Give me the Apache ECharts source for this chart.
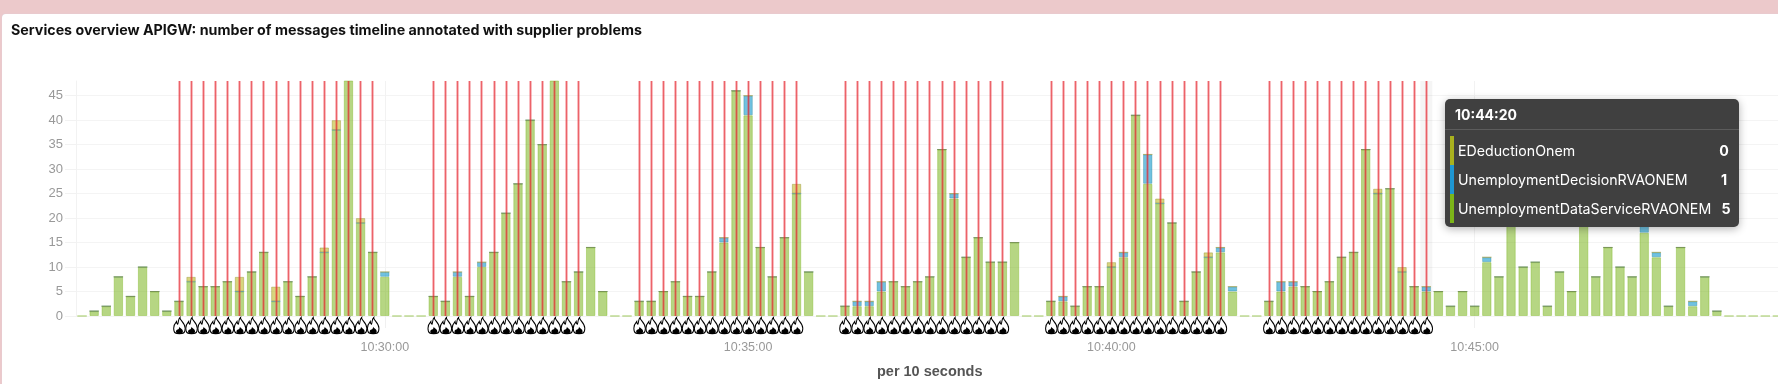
<!DOCTYPE html>
<html><head><meta charset="utf-8">
<style>
html,body{margin:0;padding:0;background:#ecc9cb;width:1778px;height:384px;overflow:hidden}
#panel{position:absolute;left:2px;top:14px;right:0;bottom:0;background:#fff;border-radius:4px 0 0 0;box-shadow:0 0 1px #cfd6e4}
#c{position:absolute;left:0;top:0;width:1778px;height:384px}
</style>
<script src="https://cdn.jsdelivr.net/npm/echarts@6/dist/echarts.min.js"></script>
</head><body><div id="panel"></div><div id="c"></div>
<script>
const chartTitle='Services overview APIGW: number of messages timeline annotated with supplier problems';
const axisTitle='per 10 seconds';
const seriesNames=['UnemploymentDataServiceRVAONEM','UnemploymentDecisionRVAONEM','EDeductionOnem'];
const startSeconds=10*3600+25*60+50;
const stepSeconds=10;
const xTickLabels=['10:30:00','10:35:00','10:40:00','10:45:00'];
const dataService=[
 0,1,2,8,4,10,5,1,3,7,6,6,7,5,9,13,3,7,4,8,13,38,50,19,13,8,0,0,0,
 4,3,8,4,10,13,21,27,40,35,50,7,9,14,5,0,0,
 3,3,5,7,4,4,9,15,46,41,14,8,16,25,9,0,0,
 2,2,2,5,7,6,7,8,34,24,12,16,11,11,15,0,0,
 3,3,2,6,6,10,12,41,27,23,19,3,9,12,13,5,0,0,
 3,5,6,6,5,7,12,13,34,25,26,9,6,5,
 5,2,5,2,11,8,20,10,11,2,9,5,20,8,14,10,8,17,12,2,14,2,8,1,0,0,0,0,0];
const decision=[
 0,0,0,0,0,0,0,0,0,0,0,0,0,0,0,0,0,0,0,0,0,0,0,0,0,1,0,0,0,
 0,0,1,0,1,0,0,0,0,0,0,0,0,0,0,0,0,
 0,0,0,0,0,0,0,1,0,4,0,0,0,0,0,0,0,
 0,1,1,2,0,0,0,0,0,1,0,0,0,0,0,0,0,
 0,1,0,0,0,0,1,0,6,0,0,0,0,0,1,1,0,0,
 0,2,1,0,0,0,0,0,0,0,0,0,0,1,
 0,0,0,0,1,0,0,0,0,0,0,0,0,0,0,0,0,2,1,0,0,1,0,0,0,0,0,0,0];
const deduction=[
 0,0,0,0,0,0,0,0,0,1,0,0,0,3,0,0,3,0,0,0,1,2,0,1,0,0,0,0,0,
 0,0,0,0,0,0,0,0,0,0,0,0,0,0,0,0,0,
 0,0,0,0,0,0,0,0,0,0,0,0,0,2,0,0,0,
 0,0,0,0,0,0,0,0,0,0,0,0,0,0,0,0,0,
 0,0,0,0,0,1,0,0,0,1,0,0,0,1,0,0,0,0,
 0,0,0,0,0,0,0,0,0,1,0,1,0,0,
 0,0,0,0,0,0,0,0,0,0,0,0,0,0,0,0,0,0,0,0,0,0,0,0,0,0,0,0,0];
const annotationSpans=[['10:27:10','10:29:50'],['10:30:40','10:32:40'],['10:33:30','10:35:40'],['10:36:20','10:38:30'],['10:39:10','10:41:30'],['10:42:10','10:44:20']];
const hoverTime='10:44:20';
const yTop=48, yStep=5;

const pad=x=>String(x).padStart(2,'0');
const fmt=s=>pad(Math.floor(s/3600))+':'+pad(Math.floor(s/60)%60)+':'+pad(s%60);
const categories=dataService.map((_,i)=>fmt(startSeconds+i*stepSeconds));
const annotated=[];
annotationSpans.forEach(([a,b])=>{for(let i=categories.indexOf(a);i<=categories.indexOf(b);i++)annotated.push(categories[i]);});
const isEmpty=i=>dataService[i]+decision[i]+deduction[i]===0;
const isTick=(i,v)=>xTickLabels.includes(v);
const colors={green:'rgba(122,181,29,0.55)',blue:'rgba(25,155,205,0.62)',blueB:'rgba(30,130,150,0.35)',yellow:'rgba(190,185,40,0.6)',yellowB:'rgba(130,130,20,0.35)'};
const flameOuter='path://M11 0C10 4 20 8 20 16C20 24 16 24 10 24C4 24 0 24 0 16C0 11 3 8 5 6C5 8 5.5 9 7 10C9 7 7 3 11 0Z';
const flameInner='path://M9 0C10 3 18 5 18 11C18 15 14 15 9 15C4 15 0 15 0 11C0 7 5 7 6 6C8 5 8 3 9 0Z';
const font='"Liberation Sans",Arial,sans-serif';
const barSeries=(name,arr,col,bor,keepZero)=>({
  name,type:'bar',stack:'m',barWidth:9.4,z:2,
  data:arr.map((v,i)=>(!keepZero&&isEmpty(i))?null:v),
  itemStyle:{color:col,borderColor:bor,borderWidth:1}
});
const chart=echarts.init(document.getElementById('c'),null,{renderer:'canvas'});
const s0=barSeries(seriesNames[0],dataService,colors.green,'rgba(122,181,29,0.4)',true);
const s1=barSeries(seriesNames[1],decision,colors.blue,colors.blueB,false);
const s2=barSeries(seriesNames[2],deduction,colors.yellow,colors.yellowB,false);
const redLayer=(w,c)=>({type:'line',data:[],silent:true,z:5,symbol:'none',
  markLine:{silent:true,symbol:'none',animation:false,label:{show:false},z:5,
    lineStyle:{color:c,width:w,type:'solid'},
    data:annotated.map(t=>({xAxis:t}))}});
const hover={type:'scatter',data:[[hoverTime,yTop/2]],symbol:'rect',symbolSize:[12.1,235],silent:true,z:1,itemStyle:{color:'rgba(0,0,0,0.04)',opacity:1}};
const flameData=annotated.map(t=>[t,0]);
const f1={type:'scatter',data:flameData,symbol:flameOuter,symbolSize:[11.5,16],symbolOffset:[0.5,9.5],clip:false,silent:true,z:6,
  itemStyle:{color:'#fff',borderColor:'#000',borderWidth:1.2,opacity:1}};
const f2={type:'scatter',data:flameData,symbol:flameInner,symbolSize:[7,6.5],symbolOffset:[0.5,14],clip:false,silent:true,z:7,
  itemStyle:{color:'#000',opacity:1}};
chart.setOption({
  animation:false,
  title:{text:chartTitle,left:6,top:19,textStyle:{fontFamily:'Inter',fontSize:14.25,fontWeight:'bold',color:'#111'}},
  grid:{left:76,width:1707.5,top:81,height:235,containLabel:false,outerBoundsMode:'none'},
  tooltip:{trigger:'item',show:true,alwaysShowContent:true,transitionDuration:0,padding:0,borderWidth:0,backgroundColor:'transparent',
    extraCssText:'box-shadow:none;',
    position:()=>[1445,99],
    formatter:p=>{
      const i=p.dataIndex;
      const row=(c,n,v)=>`<div style="display:flex;justify-content:space-between;height:29px;line-height:29px"><span style="display:flex"><span style="width:4px;background:${c};margin-right:4px"></span><span style="font-weight:400">${n}</span></span><span style="font-weight:700;margin-left:10px;width:14px;text-align:center">${v}</span></div>`;
      return `<div style="width:294px;height:128px;box-sizing:border-box;background:#404040;border-radius:5px;color:#fff;font-family:Inter,sans-serif;font-size:14.2px;box-shadow:0 2px 8px rgba(0,0,0,.3)">
      <div style="height:31px;line-height:31px;padding-left:10px;font-weight:700;border-bottom:1px solid #5c5c5c;box-sizing:border-box;font-size:14px">${categories[i]}</div>
      <div style="padding:6px 8px 0 5px">${row('#a9b11e',seriesNames[2],deduction[i])}${row('#1e96d2',seriesNames[1],decision[i])}${row('#7cb518',seriesNames[0],dataService[i])}</div></div>`;
    }},
  xAxis:{type:'category',data:categories,
    name:axisTitle,nameLocation:'middle',nameGap:48,
    nameTextStyle:{fontFamily:font,fontWeight:'bold',fontSize:14.5,color:'#555'},
    axisLine:{show:false},
    axisTick:{show:true,length:12,alignWithLabel:true,interval:isTick,lineStyle:{color:'#f0f0f0'}},
    axisLabel:{color:'#999',fontFamily:font,fontSize:12.5,margin:25,interval:isTick,hideOverlap:false},
    splitLine:{show:true,alignWithLabel:true,interval:isTick,lineStyle:{color:'#f2f2f2',width:1}}},
  yAxis:{type:'value',min:0,max:yTop,interval:yStep,
    axisLine:{show:true,lineStyle:{color:'#f2f2f2'}},
    axisTick:{show:true,length:11,lineStyle:{color:'#f2f2f2'}},
    axisLabel:{color:'#999',fontFamily:font,fontSize:13,margin:13,showMaxLabel:false},
    splitLine:{show:true,showMaxLine:false,lineStyle:{color:'#f4f4f4',width:1}}},
  series:[s0,s1,s2,hover,redLayer(3,'rgba(235,60,70,0.34)'),redLayer(1,'rgba(225,25,35,0.55)'),f1,f2]
});
chart.dispatchAction({type:'showTip',seriesIndex:0,dataIndex:categories.indexOf(hoverTime)});
</script></body></html>
